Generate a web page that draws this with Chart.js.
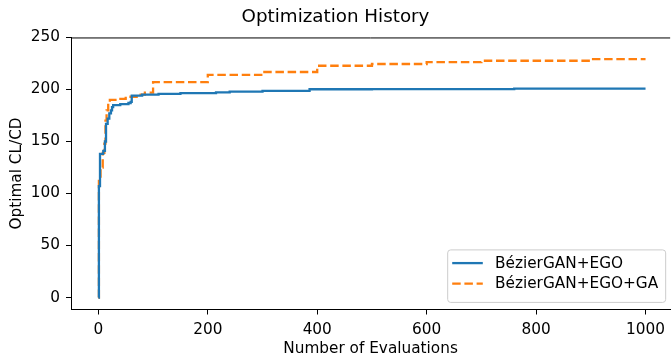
<!DOCTYPE html>
<html>
<head>
<meta charset="utf-8">
<script src="https://cdn.jsdelivr.net/npm/chart.js@4.4.0/dist/chart.umd.min.js"></script>
<style>
  html, body { margin: 0; padding: 0; background: #fff; }
</style>
</head>
<body>
<canvas id="grafico" width="671" height="355"></canvas>
<script>
// best value found so far, only where it changes
const egoEvals = [0, 1, 3, 9, 12, 14, 17, 20, 23, 25, 27, 40, 55, 59, 61, 80, 110, 150, 215, 240, 300, 386, 500, 760, 1000];
const egoValues = [0, 107, 138, 141, 150, 167, 172, 177, 180, 183, 185, 186, 187, 188, 194, 195, 195.8, 196.5, 197.3, 198, 198.6, 200.2, 200.4, 200.8, 200.8];

const gaEvals = [0, 1, 4, 8, 11, 13, 15, 18, 21, 35, 50, 70, 85, 100, 200, 300, 400, 500, 600, 700, 900, 1000];
const gaValues = [0, 112, 125, 139, 148, 170, 180, 187, 190, 191, 193, 195, 197, 207, 214, 216.8, 222.8, 224.5, 226.2, 227.6, 229.2, 229.2];

const xTicks = [0, 200, 400, 600, 800, 1000];
const yTicks = [0, 50, 100, 150, 200, 250];

const fuente = '"DejaVu Sans", sans-serif';

function puntos(xs, ys) {
  var out = [];
  for (let i = 0; i < xs.length; i++) {
    out.push({ x: xs[i], y: ys[i] });
  }
  return out;
}

// matplotlib-style legend inside the axes, lower right
const leyendaPlugin = {
  id: 'leyenda',
  afterDraw(chart) {
    const ctx = chart.ctx;
    const area = chart.chartArea;
    const sets = chart.data.datasets;
    ctx.save();
    ctx.font = '15.3px ' + fuente;
    let textW = 0;
    sets.forEach(d => { textW = Math.max(textW, ctx.measureText(d.label).width); });
    const w = 6 + 30.6 + 12.2 + textW + 6;
    const right = area.right - 5;
    const bottom = area.bottom - 7.6;
    const top = bottom - 52.5;
    const left = right - w;
    ctx.beginPath();
    ctx.roundRect(left + 0.5, top + 0.5, w, bottom - top, 3);
    ctx.fillStyle = 'rgba(255,255,255,0.8)';
    ctx.fill();
    ctx.strokeStyle = '#cccccc';
    ctx.lineWidth = 1;
    ctx.stroke();
    sets.forEach((d, i) => {
      const cy = top + 13.7 + i * 20.6;
      ctx.beginPath();
      ctx.setLineDash(d.borderDash || []);
      ctx.strokeStyle = d.borderColor;
      ctx.lineWidth = d.borderWidth;
      ctx.moveTo(left + 5, cy);
      ctx.lineTo(left + 5 + 30.6, cy);
      ctx.stroke();
      ctx.setLineDash([]);
      ctx.fillStyle = '#000';
      ctx.textBaseline = 'middle';
      ctx.fillText(d.label, left + 5 + 30.6 + 12.2, cy + 0.5);
    });
    ctx.restore();
  }
};

// top spine (right spine falls outside the picture)
const marcoPlugin = {
  id: 'marco',
  afterDraw(chart) {
    const ctx = chart.ctx;
    const a = chart.chartArea;
    ctx.save();
    ctx.strokeStyle = '#000';
    ctx.lineWidth = 1;
    ctx.beginPath();
    ctx.moveTo(a.left, a.top + 0.5);
    ctx.lineTo(a.right, a.top + 0.5);
    ctx.stroke();
    ctx.restore();
  }
};

const data = {
  datasets: [
    {
      label: 'BézierGAN+EGO',
      data: puntos(egoEvals, egoValues),
      borderColor: '#1f77b4',
      backgroundColor: '#1f77b4',
      borderWidth: 2.3,
      stepped: true,
      pointRadius: 0,
      fill: false
    },
    {
      label: 'BézierGAN+EGO+GA',
      data: puntos(gaEvals, gaValues),
      borderColor: '#ff7f0e',
      backgroundColor: '#ff7f0e',
      borderWidth: 2.3,
      borderDash: [8.5, 3.7],
      stepped: true,
      pointRadius: 0,
      fill: false
    }
  ]
};

const config = {
  type: 'line',
  data,
  options: {
    responsive: false,
    animation: false,
    layout: { padding: { top: 0, right: 0, bottom: 0, left: 0 } },
    plugins: {
      legend: { display: false },
      tooltip: { enabled: false },
      title: {
        display: true,
        text: 'Optimization History',
        color: '#000',
        font: { family: fuente, size: 18.3, weight: 'normal' },
        padding: { top: 6, bottom: 9.5 }
      }
    },
    scales: {
      x: {
        type: 'linear',
        min: -50,
        max: 1045,
        afterBuildTicks: s => { s.ticks = xTicks.map(v => ({ value: v })); },
        afterFit: s => { s.height = 45.5; },
        grid: { drawOnChartArea: false, tickLength: 5, color: '#000', tickWidth: 1 },
        border: { color: '#000', width: 1 },
        ticks: { color: '#000', font: { family: fuente, size: 15.3 }, padding: 6, maxRotation: 0, callback: v => String(v) },
        title: {
          display: true,
          text: 'Number of Evaluations',
          color: '#000',
          font: { family: fuente, size: 15.3 },
          padding: { top: 0, bottom: -3.5 }
        }
      },
      y: {
        min: -11.5,
        max: 250,
        afterBuildTicks: s => { s.ticks = yTicks.map(v => ({ value: v })); },
        afterFit: s => { s.width = 71; },
        grid: { drawOnChartArea: false, tickLength: 5, color: '#000', tickWidth: 1 },
        border: { color: '#000', width: 1 },
        ticks: { color: '#000', font: { family: fuente, size: 15.3 }, padding: 6, callback: v => String(v) },
        title: {
          display: true,
          text: 'Optimal CL/CD',
          color: '#000',
          font: { family: fuente, size: 15.3 },
          padding: { top: 8, bottom: 0 }
        }
      }
    }
  },
  plugins: [marcoPlugin, leyendaPlugin]
};

const myChart = new Chart(document.getElementById('grafico'), config);
</script>
</body>
</html>
